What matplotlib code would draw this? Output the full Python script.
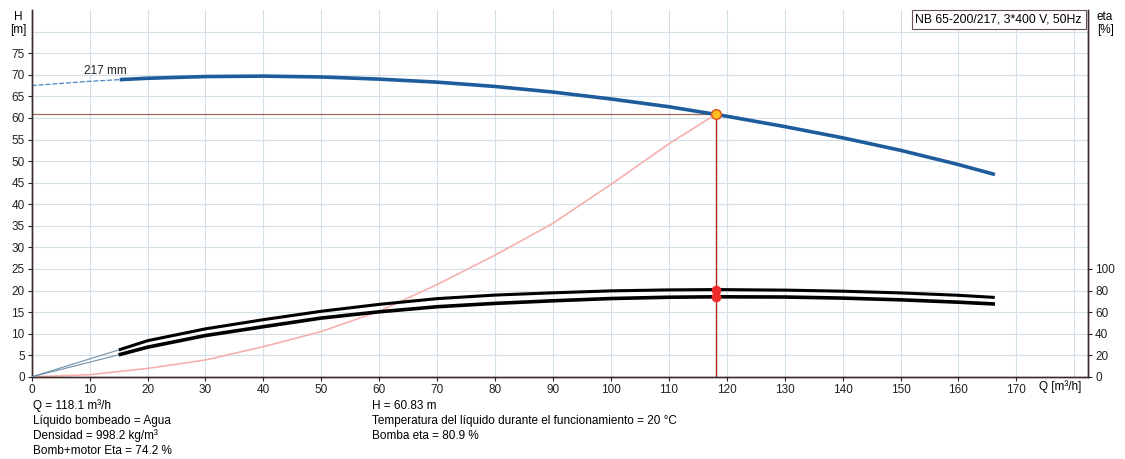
import matplotlib
matplotlib.use('Agg')
import matplotlib.pyplot as plt

plt.rcParams['font.family'] = ['Liberation Sans', 'DejaVu Sans']

# Curva H (bomba 217 mm), tramo fino y tramo de trabajo
q_h_low = [0, 5, 10, 15.5]
h_low = [67.5, 68.0, 68.5, 68.9]
q_h = [15.5, 20, 30, 40, 50, 60, 70, 80, 90, 100, 110, 118.1, 120, 130, 140, 150, 160, 166]
h = [68.9, 69.2, 69.6, 69.7, 69.5, 69.0, 68.3, 67.3, 66.0, 64.4, 62.6, 60.83, 60.4, 58.0, 55.4, 52.5, 49.2, 47.0]

# Curva del sistema
q_sys = [0, 10, 20, 30, 40, 50, 60, 70, 80, 90, 100, 110, 118.1]
h_sys = [0, 0.5, 1.95, 3.9, 7.0, 10.5, 15.2, 21.4, 28.2, 35.6, 44.6, 54.0, 60.83]

# Rendimientos [%]
q_eta_low = [0, 15.3]
eta_pump_low = [0, 25.4]
eta_tot_low = [0, 20.8]
q_eta = [15.3, 20, 30, 40, 50, 60, 70, 80, 90, 100, 110, 118.1, 130, 140, 150, 160, 166]
eta_pump = [25.4, 33.5, 44.5, 53.0, 60.8, 67.2, 72.5, 75.8, 77.9, 79.7, 80.6, 80.9, 80.4, 79.4, 77.8, 75.6, 73.7]
eta_tot = [20.8, 27.5, 38.3, 46.5, 54.5, 60.3, 65.0, 68.1, 70.5, 72.6, 73.8, 74.2, 74.0, 73.0, 71.4, 69.2, 67.6]

q_op = 118.1
h_op = 60.83
eta_pump_op = 80.9
eta_tot_op = 74.2

x_ticks = list(range(0, 180, 10))
h_ticks = list(range(0, 80, 5))
eta_ticks = list(range(0, 120, 20))

fig = plt.figure(figsize=(11.25, 4.59), dpi=100)
ax = fig.add_axes([0.0282, 0.179, 0.9391, 0.799])
ax2 = ax.twinx()

ax.set_xlim(0, 182.4)
ax.set_ylim(0, 85)
ax2.set_ylim(0, 340)

grid_c = '#d3dfe9'
for x in range(10, 190, 10):
    ax.axvline(x, color=grid_c, lw=0.8, zorder=0)
for y in range(5, 85, 5):
    ax.axhline(y, color=grid_c, lw=0.8, zorder=0)

# lineas del punto de trabajo
ax.plot([0, q_op], [h_op, h_op], color='#9a6a5a', lw=0.9, zorder=2)
ax.plot([q_op, q_op], [0, h_op], color='#a82818', lw=1.0, zorder=2)

ax.plot(q_sys, h_sys, color='#f6b0ae', lw=1.2, zorder=2)
ax.plot(q_h_low, h_low, color='#4a86c0', lw=0.9, ls=(0, (4, 1.5)), zorder=3)
ax.plot(q_h, h, color='#1f5c9c', lw=2.6, zorder=3)

ax2.plot(q_eta_low, eta_pump_low, color='#7090a8', lw=0.8, zorder=3)
ax2.plot(q_eta_low, eta_tot_low, color='#7090a8', lw=0.8, zorder=3)
ax2.plot(q_eta, eta_pump, color='black', lw=2.2, zorder=3)
ax2.plot(q_eta, eta_tot, color='black', lw=2.6, zorder=3)
ax2.plot([q_op, q_op], [eta_pump_op, eta_tot_op], 'o', color='#ee2a2a', ms=6, zorder=4)

ax.plot([q_op], [h_op], 'o', color='#ffc020', mec='#e85020', mew=1.0, ms=7, zorder=5)

ax.text(9, 70.3, '217 mm', fontsize=8.5, color='#222222', zorder=4)

ax.set_xticks(x_ticks)
ax.set_yticks(h_ticks)
ax2.set_yticks(eta_ticks)
ax.tick_params(labelsize=8.5, length=3, colors='#222222', pad=2)
ax2.tick_params(labelsize=8.5, length=3, colors='#222222', pad=2)

for a in (ax, ax2):
    a.spines['top'].set_visible(False)
    for s in ('left', 'right', 'bottom'):
        a.spines[s].set_color('#3a2a2a')
        a.spines[s].set_linewidth(1.0)

fig.text(0.0125, 0.962, 'H', fontsize=8.5, ha='left', va='center')
fig.text(0.009, 0.934, '[m]', fontsize=8.5, ha='left', va='center')
fig.text(0.975, 0.962, 'eta', fontsize=8.5, ha='left', va='center')
fig.text(0.975, 0.934, '[%]', fontsize=8.5, ha='left', va='center')
fig.text(0.942, 0.157, 'Q [m³/h]', fontsize=8.5, ha='center', va='center')

ax.text(0.994, 0.99, 'NB 65-200/217, 3*400 V, 50Hz', transform=ax.transAxes,
        fontsize=8.8, ha='right', va='top', zorder=6,
        bbox=dict(boxstyle='square,pad=0.3', fc='white', ec='#6a5050', lw=0.8))

left_lines = ['Q = 118.1 m³/h', 'Líquido bombeado = Agua',
              'Densidad = 998.2 kg/m³', 'Bomb+motor Eta = 74.2 %']
right_lines = ['H = 60.83 m',
               'Temperatura del líquido durante el funcionamiento = 20 °C',
               'Bomba eta = 80.9 %']
for i, t in enumerate(left_lines):
    fig.text(0.029, 0.116 - i * 0.0327, t, fontsize=8.5, va='center')
for i, t in enumerate(right_lines):
    fig.text(0.331, 0.116 - i * 0.0327, t, fontsize=8.5, va='center')

fig.savefig('out.png', dpi=100, facecolor='white')
